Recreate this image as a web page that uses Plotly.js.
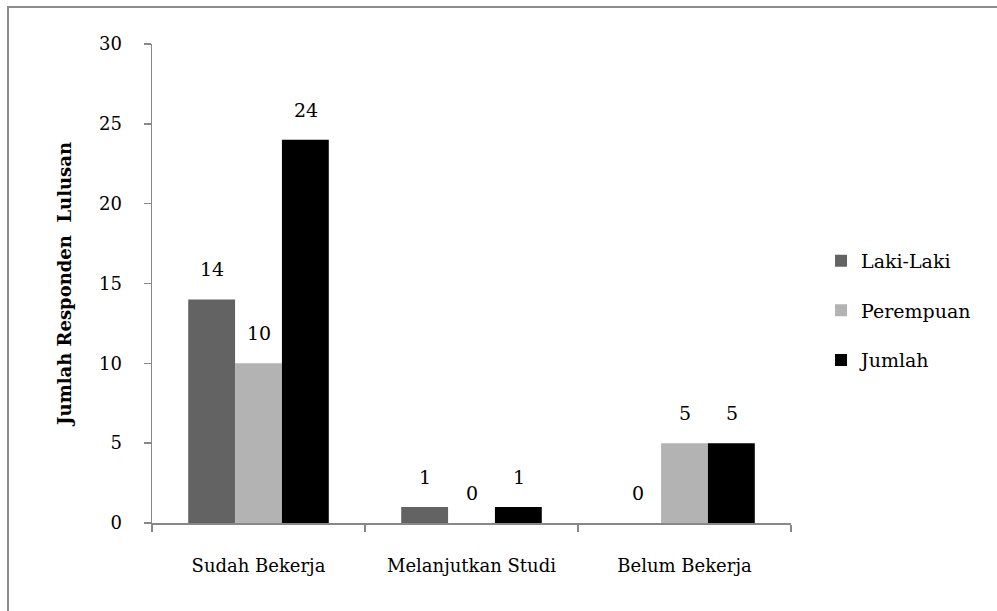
<!DOCTYPE html>
<html>
<head>
<meta charset="utf-8">
<script src="https://cdn.plot.ly/plotly-3.0.1.min.js"></script>
<style>
  html, body { margin: 0; padding: 0; background: #fff; }
  #wrap { position: relative; width: 997px; height: 611px; overflow: hidden; }
  #chart { width: 997px; height: 611px; }
  #frame { position: absolute; left: 7px; top: 6px; width: 1200px; height: 800px;
           border-left: 2px solid #8c8c8c; border-top: 2px solid #8c8c8c; pointer-events: none; }
</style>
</head>
<body>
<div id="wrap">
  <div id="chart"></div>
  <div id="frame"></div>
</div>
<script>
const categories = ["Sudah Bekerja", "Melanjutkan Studi", "Belum Bekerja"];
const seriesNames = ["Laki-Laki", "Perempuan", "Jumlah"];
const lakiLaki = [14, 1, 0];
const perempuan = [10, 0, 5];
const jumlah = [24, 1, 5];
const yTicks = [0, 5, 10, 15, 20, 25, 30];
const yTitle = "Jumlah Responden  Lulusan";

const seriesValues = [lakiLaki, perempuan, jumlah];
const colors = ["#636363", "#b3b3b3", "#000000"];
const fontFam = "DejaVu Serif, Liberation Serif, serif";

const traces = seriesValues.map((vals, i) => ({
  type: "bar",
  name: seriesNames[i],
  x: categories,
  y: vals,
  marker: { color: colors[i] },
  legendgroup: "g" + i,
  hoverinfo: "skip"
}));

const xShifts = [-47, 0, 47];
const annotations = [];
seriesValues.forEach((vals, i) => {
  vals.forEach((v, j) => {
    annotations.push({
      x: categories[j], y: v, xref: "x", yref: "y",
      text: String(v), showarrow: false,
      xanchor: "center", yanchor: "bottom",
      xshift: xShifts[i], yshift: 17,
      font: { family: fontFam, size: 19, color: "#000" }
    });
  });
});

const layout = {
  width: 997, height: 611,
  margin: { l: 152, r: 206, t: 44, b: 88 },
  paper_bgcolor: "#fff", plot_bgcolor: "#fff",
  barmode: "group", bargap: 0.34, bargroupgap: 0,
  font: { family: fontFam, size: 18, color: "#000" },
  xaxis: {
    type: "category",
    showline: true, linecolor: "#888", linewidth: 1.5,
    ticks: "outside", tickson: "boundaries", ticklen: 7, tickcolor: "#888", tickwidth: 1.5,
    ticklabelstandoff: 26,
    showgrid: false, zeroline: false,
    tickfont: { family: fontFam, size: 18, color: "#000" },
    fixedrange: true
  },
  yaxis: {
    range: [0, 30], tickvals: yTicks,
    showline: true, linecolor: "#888", linewidth: 1.5,
    ticks: "outside", ticklen: 7, tickcolor: "#888", tickwidth: 1.5,
    ticklabelstandoff: 18,
    showgrid: false, zeroline: false,
    tickfont: { family: fontFam, size: 18, color: "#000" },
    title: { text: "<b>" + yTitle + "</b>", standoff: 22,
             font: { family: fontFam, size: 18, color: "#000" } },
    fixedrange: true
  },
  showlegend: true,
  legend: {
    x: 1.047, xanchor: "left", y: 0.443, yanchor: "middle",
    traceorder: "grouped", tracegroupgap: 22,
    font: { family: fontFam, size: 19, color: "#000" },
    bgcolor: "rgba(0,0,0,0)"
  },
  annotations: annotations
};

Plotly.newPlot("chart", traces, layout, { staticPlot: true, displayModeBar: false });
</script>
</body>
</html>
